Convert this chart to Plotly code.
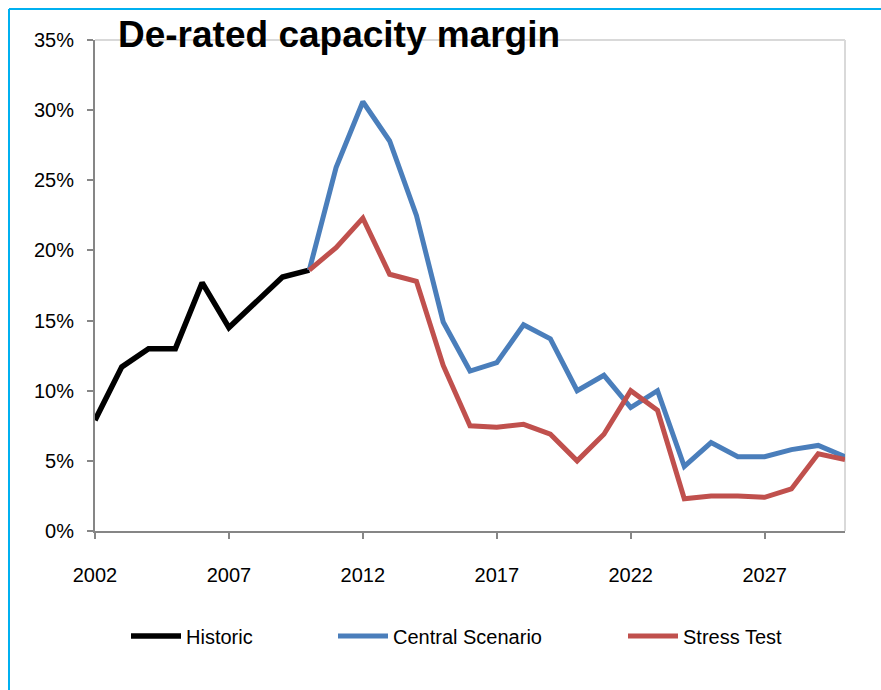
import plotly.graph_objects as go

# ---- data ----
hist_years = list(range(2002, 2011))
hist_vals = [0.079, 0.117, 0.130, 0.130, 0.177, 0.145, 0.163, 0.181, 0.186]

proj_years = list(range(2010, 2031))
central_vals = [0.186, 0.259, 0.306, 0.278, 0.225, 0.149, 0.114, 0.120, 0.147, 0.137,
                0.100, 0.111, 0.088, 0.100, 0.046, 0.063, 0.053, 0.053, 0.058, 0.061, 0.053]
stress_vals = [0.186, 0.202, 0.223, 0.183, 0.178, 0.118, 0.075, 0.074, 0.076, 0.069,
               0.050, 0.069, 0.100, 0.086, 0.023, 0.025, 0.025, 0.024, 0.030, 0.055, 0.051]

title_text = "De-rated capacity margin"
x_ticks = [2002, 2007, 2012, 2017, 2022, 2027]

# ---- layout geometry (pixels) ----
W, H = 881, 690
L, R, T, B = 95, 845, 40, 531
pw, ph = R - L, B - T

def px_x(px):
    return (px - L) / pw

def px_y(py):
    return (B - py) / ph

FONT = "Liberation Sans, Arial, sans-serif"
BLUE = "#4A7EBB"
RED = "#C0504D"

fig = go.Figure()
fig.add_trace(go.Scatter(x=hist_years, y=hist_vals, mode="lines", name="Historic",
                         line=dict(color="black", width=5.5), legend="legend"))
fig.add_trace(go.Scatter(x=proj_years, y=central_vals, mode="lines", name="Central Scenario",
                         line=dict(color=BLUE, width=5), legend="legend2"))
fig.add_trace(go.Scatter(x=proj_years, y=stress_vals, mode="lines", name="Stress Test",
                         line=dict(color=RED, width=5), legend="legend3"))

leg_common = dict(orientation="h", yanchor="middle", xanchor="left", itemwidth=50,
                  font=dict(family=FONT, size=20, color="black"),
                  bgcolor="rgba(0,0,0,0)", borderwidth=0)
ly = px_y(636)
fig.update_layout(
    legend=dict(x=px_x(126), y=ly, **leg_common),
    legend2=dict(x=px_x(333), y=ly, **leg_common),
    legend3=dict(x=px_x(623), y=ly, **leg_common),
)

fig.update_layout(
    width=W, height=H,
    margin=dict(l=L, r=W - R, t=T, b=H - B, pad=0),
    paper_bgcolor="white", plot_bgcolor="white",
    font=dict(family=FONT, size=20, color="black"),
    showlegend=True,
    xaxis=dict(range=[2002, 2030], tickmode="array", tickvals=x_ticks,
               ticktext=[str(v) for v in x_ticks],
               showgrid=False, zeroline=False, showline=True, linecolor="#868686", linewidth=2,
               ticks="outside", ticklen=6, tickwidth=2, tickcolor="#868686",
               ticklabelstandoff=19, tickfont=dict(family=FONT, size=20, color="black")),
    yaxis=dict(range=[0, 0.35], dtick=0.05, tick0=0, tickformat=".0%",
               showgrid=False, zeroline=False, showline=True, linecolor="#868686", linewidth=2,
               ticks="outside", ticklen=6, tickwidth=2, tickcolor="#868686",
               ticklabelstandoff=9, tickfont=dict(family=FONT, size=20, color="black")),
)

# light grey frame on top and right of plot area
fig.add_shape(type="line", xref="paper", yref="paper", x0=0, x1=1, y0=1, y1=1,
              line=dict(color="#D9D9D9", width=2), layer="below")
fig.add_shape(type="line", xref="paper", yref="paper", x0=1, x1=1, y0=0, y1=1,
              line=dict(color="#D9D9D9", width=2), layer="below")

# light-blue outer border (top and left)
fig.add_shape(type="line", xref="paper", yref="paper", x0=px_x(9), x1=px_x(W + 5),
              y0=px_y(9), y1=px_y(9), line=dict(color="#00B0F0", width=2))
fig.add_shape(type="line", xref="paper", yref="paper", x0=px_x(9), x1=px_x(9),
              y0=px_y(9), y1=px_y(H + 5), line=dict(color="#00B0F0", width=2))

fig.add_annotation(text=title_text, xref="paper", yref="paper", x=px_x(116), y=px_y(34),
                   xanchor="left", yanchor="middle", showarrow=False,
                   font=dict(family=FONT, size=37, color="black", weight="bold"))

fig.write_html("out.html")
